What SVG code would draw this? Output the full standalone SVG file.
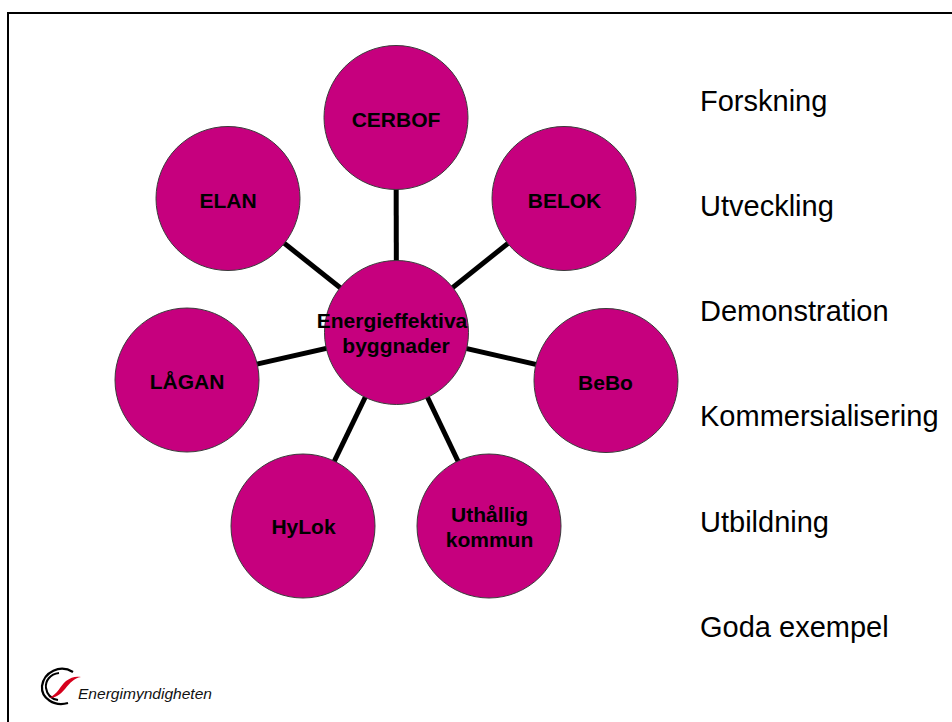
<svg xmlns="http://www.w3.org/2000/svg" width="952" height="722" viewBox="0 0 952 722">
<style>
.node{fill:#C6007E;stroke:#3a3a3a;stroke-width:1}
.lbl{font-family:"Liberation Sans",Arial,sans-serif;font-weight:bold;font-size:21px;fill:#000;text-anchor:middle}
.side{font-family:"Liberation Sans",Arial,sans-serif;font-size:29px;fill:#000}
.conn{stroke:#000;stroke-width:5;fill:none}
</style>
<rect width="952" height="722" fill="#fff"/>
<path d="M8,730 V13 H960" fill="none" stroke="#000" stroke-width="2"/>
<g id="connectors">
<line class="conn" x1="396.5" y1="332.5" x2="396" y2="117.5"/>
<line class="conn" x1="396.5" y1="332.5" x2="564" y2="198.5"/>
<line class="conn" x1="396.5" y1="332.5" x2="606" y2="380.5"/>
<line class="conn" x1="396.5" y1="332.5" x2="489" y2="526"/>
<line class="conn" x1="396.5" y1="332.5" x2="303" y2="526"/>
<line class="conn" x1="396.5" y1="332.5" x2="187" y2="380"/>
<line class="conn" x1="396.5" y1="332.5" x2="228" y2="198.5"/>
</g>
<g id="cerbof"><circle class="node" cx="396" cy="117.5" r="72"/><text class="lbl" x="396" y="126.5">CERBOF</text></g>
<g id="belok"><circle class="node" cx="564" cy="198.5" r="72"/><text class="lbl" x="564.5" y="207.5">BELOK</text></g>
<g id="bebo"><circle class="node" cx="606" cy="380.5" r="72"/><text class="lbl" x="605.5" y="389.5">BeBo</text></g>
<g id="uthallig"><circle class="node" cx="489" cy="526" r="72"/><text class="lbl" x="489.5" y="521.5">Uthållig</text><text class="lbl" x="489.5" y="546.5">kommun</text></g>
<g id="hylok"><circle class="node" cx="303" cy="526" r="72"/><text class="lbl" x="303.5" y="534">HyLok</text></g>
<g id="lagan"><circle class="node" cx="187" cy="380" r="72"/><text class="lbl" x="187" y="389">LÅGAN</text></g>
<g id="elan"><circle class="node" cx="228" cy="198.5" r="72"/><text class="lbl" x="228" y="207.5">ELAN</text></g>
<g id="center"><circle class="node" cx="396.5" cy="332.5" r="72"/><text class="lbl" x="392" y="328">Energieffektiva</text><text class="lbl" x="396" y="353">byggnader</text></g>
<g id="side-labels">
<text class="side" x="700" y="111">Forskning</text>
<text class="side" x="700" y="216">Utveckling</text>
<text class="side" x="700" y="321">Demonstration</text>
<text class="side" x="700" y="426">Kommersialisering</text>
<text class="side" x="700" y="532">Utbildning</text>
<text class="side" x="700" y="637">Goda exempel</text>
</g>
<g id="logo">
<path d="M73,672 C60,664 44,672 42,686 C41,698 54,707 68,703" fill="none" stroke="#000" stroke-width="2.2"/>
<path d="M59,673 C50,674 45,681 46,688 C47,695 52,699 58,700" fill="none" stroke="#000" stroke-width="2"/>
<path d="M49,698 C58,694 60,686 66,681 C71,677 76,676 81,677 C74,678 70,683 65,689 C60,695 55,698 49,698 Z" fill="#D6001C"/>
<text x="78" y="699" font-family="'Liberation Sans',Arial,sans-serif" font-style="italic" font-size="15" textLength="134" lengthAdjust="spacingAndGlyphs" fill="#111">Energimyndigheten</text>
</g>
</svg>
